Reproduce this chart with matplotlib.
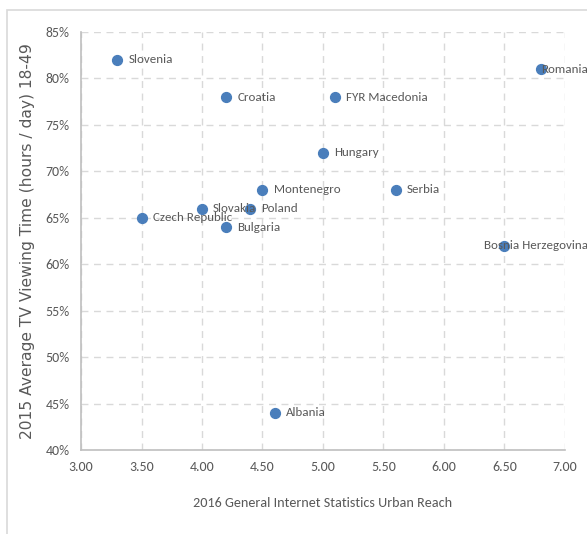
import matplotlib
matplotlib.use("Agg")
import matplotlib.pyplot as plt
from matplotlib.patches import Rectangle
from matplotlib.ticker import PercentFormatter, FormatStrFormatter

# Internet urban reach (2016) vs. TV viewing time share (2015), by country
countries = ["Slovenia", "Croatia", "FYR Macedonia", "Romania", "Hungary",
             "Montenegro", "Serbia", "Slovakia", "Poland", "Czech Republic",
             "Bulgaria", "Bosnia Herzegovina", "Albania"]
internet_reach = [3.3, 4.2, 5.1, 6.8, 5.0, 4.5, 5.6, 4.0, 4.4, 3.5, 4.2, 6.5, 4.6]
tv_viewing = [82, 78, 78, 81, 72, 68, 68, 66, 66, 65, 64, 62, 44]

# label offsets in points (most sit just right of the marker)
label_dx = {"Romania": 0, "Bosnia Herzegovina": -15}

text_color = "#595959"
narrow = ["Carlito", "Liberation Sans Narrow", "DejaVu Sans"]

fig = plt.figure(figsize=(5.87, 5.34), dpi=100)
ax = fig.add_axes([0.138, 0.157, 0.8245, 0.783])

# light chart frame
fig.patches.append(Rectangle((7 / 587, -0.1), 1.2, 1 - 10 / 534 + 0.1,
                             transform=fig.transFigure, fill=False,
                             edgecolor="#d9d9d9", linewidth=1.2))

ax.scatter(internet_reach, tv_viewing, s=50, color="#4a7ebb", zorder=3)

for name, x, y in zip(countries, internet_reach, tv_viewing):
    ax.annotate(name, (x, y), xytext=(label_dx.get(name, 8), 0),
                textcoords="offset points", va="center", ha="left",
                fontsize=9.4, color=text_color, family=narrow,
                annotation_clip=False, zorder=4)

ax.set_xlim(3, 7)
ax.set_ylim(40, 85)
ax.set_xticks([3.0, 3.5, 4.0, 4.5, 5.0, 5.5, 6.0, 6.5, 7.0])
ax.set_yticks(range(40, 86, 5))
ax.xaxis.set_major_formatter(FormatStrFormatter("%.2f"))
ax.yaxis.set_major_formatter(PercentFormatter(decimals=0))

ax.grid(True, linestyle=(0, (5, 4)), color="#d9d9d9", linewidth=1)
ax.set_axisbelow(True)
for side in ["top", "right"]:
    ax.spines[side].set_visible(False)
for side in ["left", "bottom"]:
    ax.spines[side].set_color("#bfbfbf")
    ax.spines[side].set_linewidth(1.2)
ax.tick_params(length=0, pad=8, labelsize=10, labelcolor=text_color)
for lbl in ax.get_xticklabels() + ax.get_yticklabels():
    lbl.set_family(narrow)

ax.set_xlabel("2016 General Internet Statistics Urban Reach",
              fontsize=10.2, color=text_color, family=narrow, labelpad=17)
ax.set_ylabel("2015 Average TV Viewing Time (hours / day) 18-49",
              fontsize=11.2, color=text_color, family="DejaVu Sans", labelpad=8)

fig.savefig("out.png", dpi=100)
